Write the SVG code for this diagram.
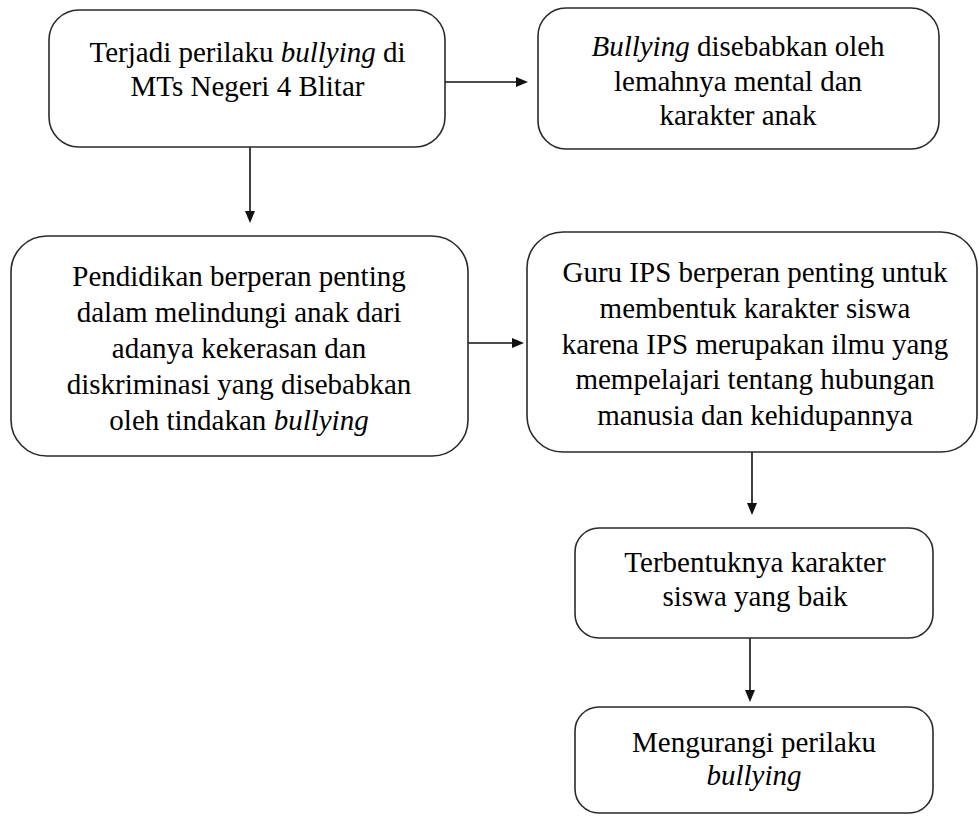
<svg xmlns="http://www.w3.org/2000/svg" width="979" height="816" viewBox="0 0 979 816">
<rect width="979" height="816" fill="#fff"/>
<g id="connectors">
<line x1="445" y1="82" x2="517" y2="82" stroke="#111" stroke-width="1.6"/>
<polygon points="516,77 528,82 516,87" fill="#111"/>
<line x1="250" y1="147" x2="250" y2="212" stroke="#111" stroke-width="1.6"/>
<polygon points="245,211 250,223 255,211" fill="#111"/>
<line x1="468" y1="343" x2="513" y2="343" stroke="#111" stroke-width="1.6"/>
<polygon points="512,338 524,343 512,348" fill="#111"/>
<line x1="752" y1="452" x2="752" y2="504" stroke="#111" stroke-width="1.6"/>
<polygon points="747,503 752,515 757,503" fill="#111"/>
<line x1="750" y1="638" x2="750" y2="691" stroke="#111" stroke-width="1.6"/>
<polygon points="745,690 750,702 755,690" fill="#111"/>
</g>
<g id="n1">
<rect x="49" y="10" width="396" height="137" rx="30" fill="#fff" stroke="#2a2a2a" stroke-width="1.6"/>
<text x="89.5" y="62" font-family="Liberation Serif" font-size="29">Terjadi perilaku <tspan font-style="italic">bullying</tspan> di</text>
<text x="130.5" y="96" font-family="Liberation Serif" font-size="29">MTs Negeri 4 Blitar</text>
</g>
<g id="n2">
<rect x="538" y="8" width="401" height="141" rx="28" fill="#fff" stroke="#2a2a2a" stroke-width="1.6"/>
<text x="738" y="56" font-family="serif" font-size="29" text-anchor="middle"><tspan font-style="italic">Bullying</tspan> disebabkan oleh</text>
<text x="738" y="91" font-family="serif" font-size="29" text-anchor="middle">lemahnya mental dan</text>
<text x="738" y="125" font-family="serif" font-size="29" text-anchor="middle">karakter anak</text>
</g>
<g id="n3">
<rect x="11" y="236" width="457" height="220" rx="36" fill="#fff" stroke="#2a2a2a" stroke-width="1.6"/>
<text x="239" y="286" font-family="Times New Roman" font-size="29" text-anchor="middle">Pendidikan berperan penting</text>
<text x="239" y="322" font-family="Times New Roman" font-size="29" text-anchor="middle">dalam melindungi anak dari</text>
<text x="239" y="358" font-family="Times New Roman" font-size="29" text-anchor="middle">adanya kekerasan dan</text>
<text x="239" y="394" font-family="Times New Roman" font-size="29" text-anchor="middle">diskriminasi yang disebabkan</text>
<text x="239" y="430" font-family="Times New Roman" font-size="29" text-anchor="middle">oleh tindakan <tspan font-style="italic">bullying</tspan></text>
</g>
<g id="n4">
<rect x="527" y="232" width="450" height="220" rx="36" fill="#fff" stroke="#2a2a2a" stroke-width="1.6"/>
<text x="755" y="282" font-family="Tinos" font-size="29" text-anchor="middle">Guru IPS berperan penting untuk</text>
<text x="755" y="318" font-family="Tinos" font-size="29" text-anchor="middle">membentuk karakter siswa</text>
<text x="755" y="354" font-family="Tinos" font-size="29" text-anchor="middle">karena IPS merupakan ilmu yang</text>
<text x="755" y="389" font-family="Tinos" font-size="29" text-anchor="middle">mempelajari tentang hubungan</text>
<text x="755" y="425" font-family="Tinos" font-size="29" text-anchor="middle">manusia dan kehidupannya</text>
</g>
<g id="n5">
<rect x="575" y="528" width="358" height="110" rx="24" fill="#fff" stroke="#2a2a2a" stroke-width="1.6"/>
<text x="755" y="572" style="font-family:'Liberation Serif';font-size:29px" text-anchor="middle">Terbentuknya karakter</text>
<text x="755" y="606" style="font-family:'Liberation Serif';font-size:29px" text-anchor="middle">siswa yang baik</text>
</g>
<g id="n6">
<rect x="575" y="707" width="358" height="106" rx="24" fill="#fff" stroke="#2a2a2a" stroke-width="1.6"/>
<text x="754" y="752" font-family="Liberation Serif" font-size="29px" text-anchor="middle">Mengurangi perilaku</text>
<text x="754" y="785" font-family="Liberation Serif" font-size="29px" font-style="italic" text-anchor="middle">bullying</text>
</g>
</svg>
